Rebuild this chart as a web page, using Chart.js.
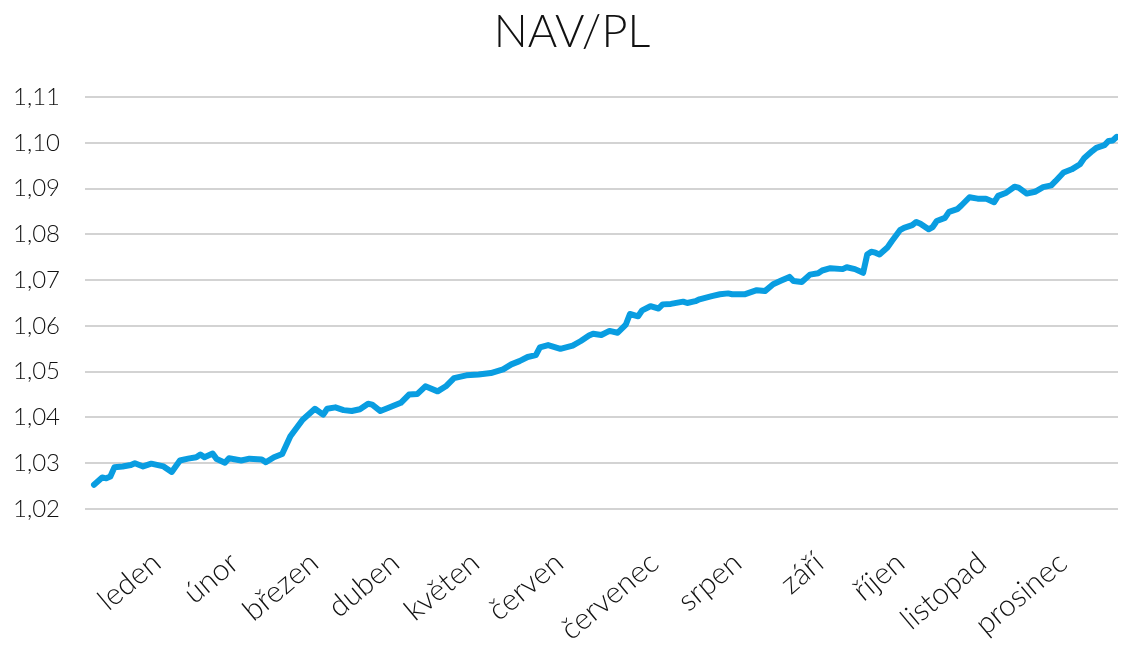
<!DOCTYPE html>
<html>
<head>
<meta charset="utf-8">
<title>NAV/PL</title>
<script src="https://cdn.jsdelivr.net/npm/chart.js@4/dist/chart.umd.min.js"></script>
<style>
    html, body { margin: 0; padding: 0; background: #fff; }
    #wrap { width: 1131px; height: 650px; }
</style>
</head>
<body>
<div id="wrap"><canvas id="chart-nav"></canvas></div>
<script>
// trading day index and NAV
var days = [0, 2, 3, 4, 5, 7, 9, 10, 12, 14, 17, 19, 21, 23, 25, 26, 27, 29, 30, 32,
    33, 36, 38, 41, 42, 44, 46, 48, 51, 54, 56, 57, 59, 61, 63, 65, 67, 68, 70, 72,
    75, 77, 79, 81, 84, 86, 88, 91, 94, 97, 100, 102, 104, 106, 108, 109, 111, 114, 117, 119,
    121, 122, 124, 126, 128, 130, 131, 133, 134, 136, 138, 139, 141, 144, 145, 147, 148, 151, 153, 155,
    156, 157, 159, 162, 164, 166, 168, 170, 171, 173, 175, 177, 178, 180, 183, 184, 186, 188, 189, 190,
    191, 192, 194, 195, 197, 198, 200, 201, 202, 204, 205, 206, 208, 209, 211, 212, 214, 216, 218, 220,
    221, 223, 225, 226, 228, 230, 232, 234, 235, 237, 239, 241, 242, 244, 245, 247, 248, 249, 250];
var nav = [1.0253, 1.0269, 1.0267, 1.0271, 1.0291, 1.0293, 1.0296, 1.0300, 1.0293, 1.0299, 1.0293, 1.0281, 1.0306, 1.0310, 1.0313, 1.0319, 1.0313, 1.0321, 1.0309, 1.0301,
    1.0311, 1.0306, 1.0310, 1.0308, 1.0302, 1.0313, 1.0320, 1.0359, 1.0395, 1.0419, 1.0406, 1.0419, 1.0422, 1.0416, 1.0414, 1.0418, 1.0430, 1.0428, 1.0414, 1.0421,
    1.0432, 1.0450, 1.0451, 1.0468, 1.0457, 1.0468, 1.0486, 1.0492, 1.0494, 1.0497, 1.0505, 1.0516, 1.0523, 1.0532, 1.0536, 1.0553, 1.0558, 1.0550, 1.0557, 1.0567,
    1.0579, 1.0583, 1.0580, 1.0589, 1.0585, 1.0603, 1.0626, 1.0621, 1.0634, 1.0643, 1.0638, 1.0647, 1.0648, 1.0653, 1.0650, 1.0654, 1.0658, 1.0665, 1.0669, 1.0671,
    1.0669, 1.0669, 1.0669, 1.0678, 1.0676, 1.0691, 1.0699, 1.0707, 1.0698, 1.0696, 1.0712, 1.0715, 1.0721, 1.0726, 1.0724, 1.0728, 1.0724, 1.0716, 1.0756, 1.0762,
    1.0760, 1.0756, 1.0772, 1.0785, 1.0809, 1.0814, 1.0820, 1.0827, 1.0823, 1.0811, 1.0816, 1.0829, 1.0836, 1.0849, 1.0855, 1.0863, 1.0881, 1.0878, 1.0878, 1.0870,
    1.0884, 1.0891, 1.0904, 1.0902, 1.0889, 1.0893, 1.0903, 1.0907, 1.0916, 1.0935, 1.0942, 1.0953, 1.0966, 1.0982, 1.0989, 1.0995, 1.1004, 1.1005, 1.1013];

var months = ["leden", "únor", "březen", "duben", "květen", "červen",
    "červenec", "srpen", "září", "říjen", "listopad", "prosinec"];
var monthTicks = [15.3, 34.3, 53.8, 73.6, 93.2, 113.7, 137, 157.3, 177.3, 197.1, 217.1, 236.8];

var yTicks = [1.02, 1.03, 1.04, 1.05, 1.06, 1.07, 1.08, 1.09, 1.10, 1.11];

var points = days.map(function (d, i) { return {x: d, y: nav[i]}; });

// the original title sits a little right of the canvas centre
var titleShift = {
    id: 'titleShift',
    afterLayout: function (chart) {
        if (chart.titleBlock) { chart.titleBlock.left += 26; }
    }
};

var ctx = document.getElementById("chart-nav");
var chartNav = new Chart(ctx, {
    type: 'line',
    data: {
        datasets: [{
            label: "NAV/PL",
            data: points,
            borderColor: "#099de1",
            backgroundColor: "#099de1",
            borderWidth: 6,
            borderJoinStyle: 'round',
            borderCapStyle: 'round',
            pointRadius: 0,
            tension: 0,
            fill: false
        }]
    },
    plugins: [titleShift],
    options: {
        responsive: true,
        maintainAspectRatio: false,
        animation: false,
        layout: {
            padding: {left: 0, right: 13, top: 0, bottom: 0}
        },
        plugins: {
            legend: { display: false },
            tooltip: { enabled: false },
            title: {
                display: true,
                text: "NAV/PL",
                color: "#111",
                font: { family: "Lato", size: 45, weight: 300 },
                padding: { top: 5, bottom: 38 }
            }
        },
        scales: {
            x: {
                type: 'linear',
                min: -2.2,
                max: 250.3,
                grid: { display: false, drawTicks: false },
                border: { display: false },
                afterBuildTicks: function (scale) {
                    scale.ticks = monthTicks.map(function (v) { return {value: v}; });
                },
                afterFit: function (scale) { scale.height = 141; },
                ticks: {
                    autoSkip: false,
                    minRotation: 40,
                    maxRotation: 40,
                    padding: 36,
                    color: "#111",
                    font: { family: "Lato", size: 30, weight: 300 },
                    callback: function (value, index) { return months[index]; }
                }
            },
            y: {
                min: 1.02,
                max: 1.11,
                grid: { color: "#d3d3d3", lineWidth: 2, drawTicks: false },
                border: { display: false },
                afterBuildTicks: function (scale) {
                    scale.ticks = yTicks.map(function (v) { return {value: v}; });
                },
                afterFit: function (scale) { scale.width = 85; },
                ticks: {
                    padding: 25,
                    color: "#111",
                    font: { family: "Lato", size: 24, weight: 300 },
                    callback: function (value) { return value.toFixed(2).replace('.', ','); }
                }
            }
        }
    }
});
</script>
</body>
</html>
